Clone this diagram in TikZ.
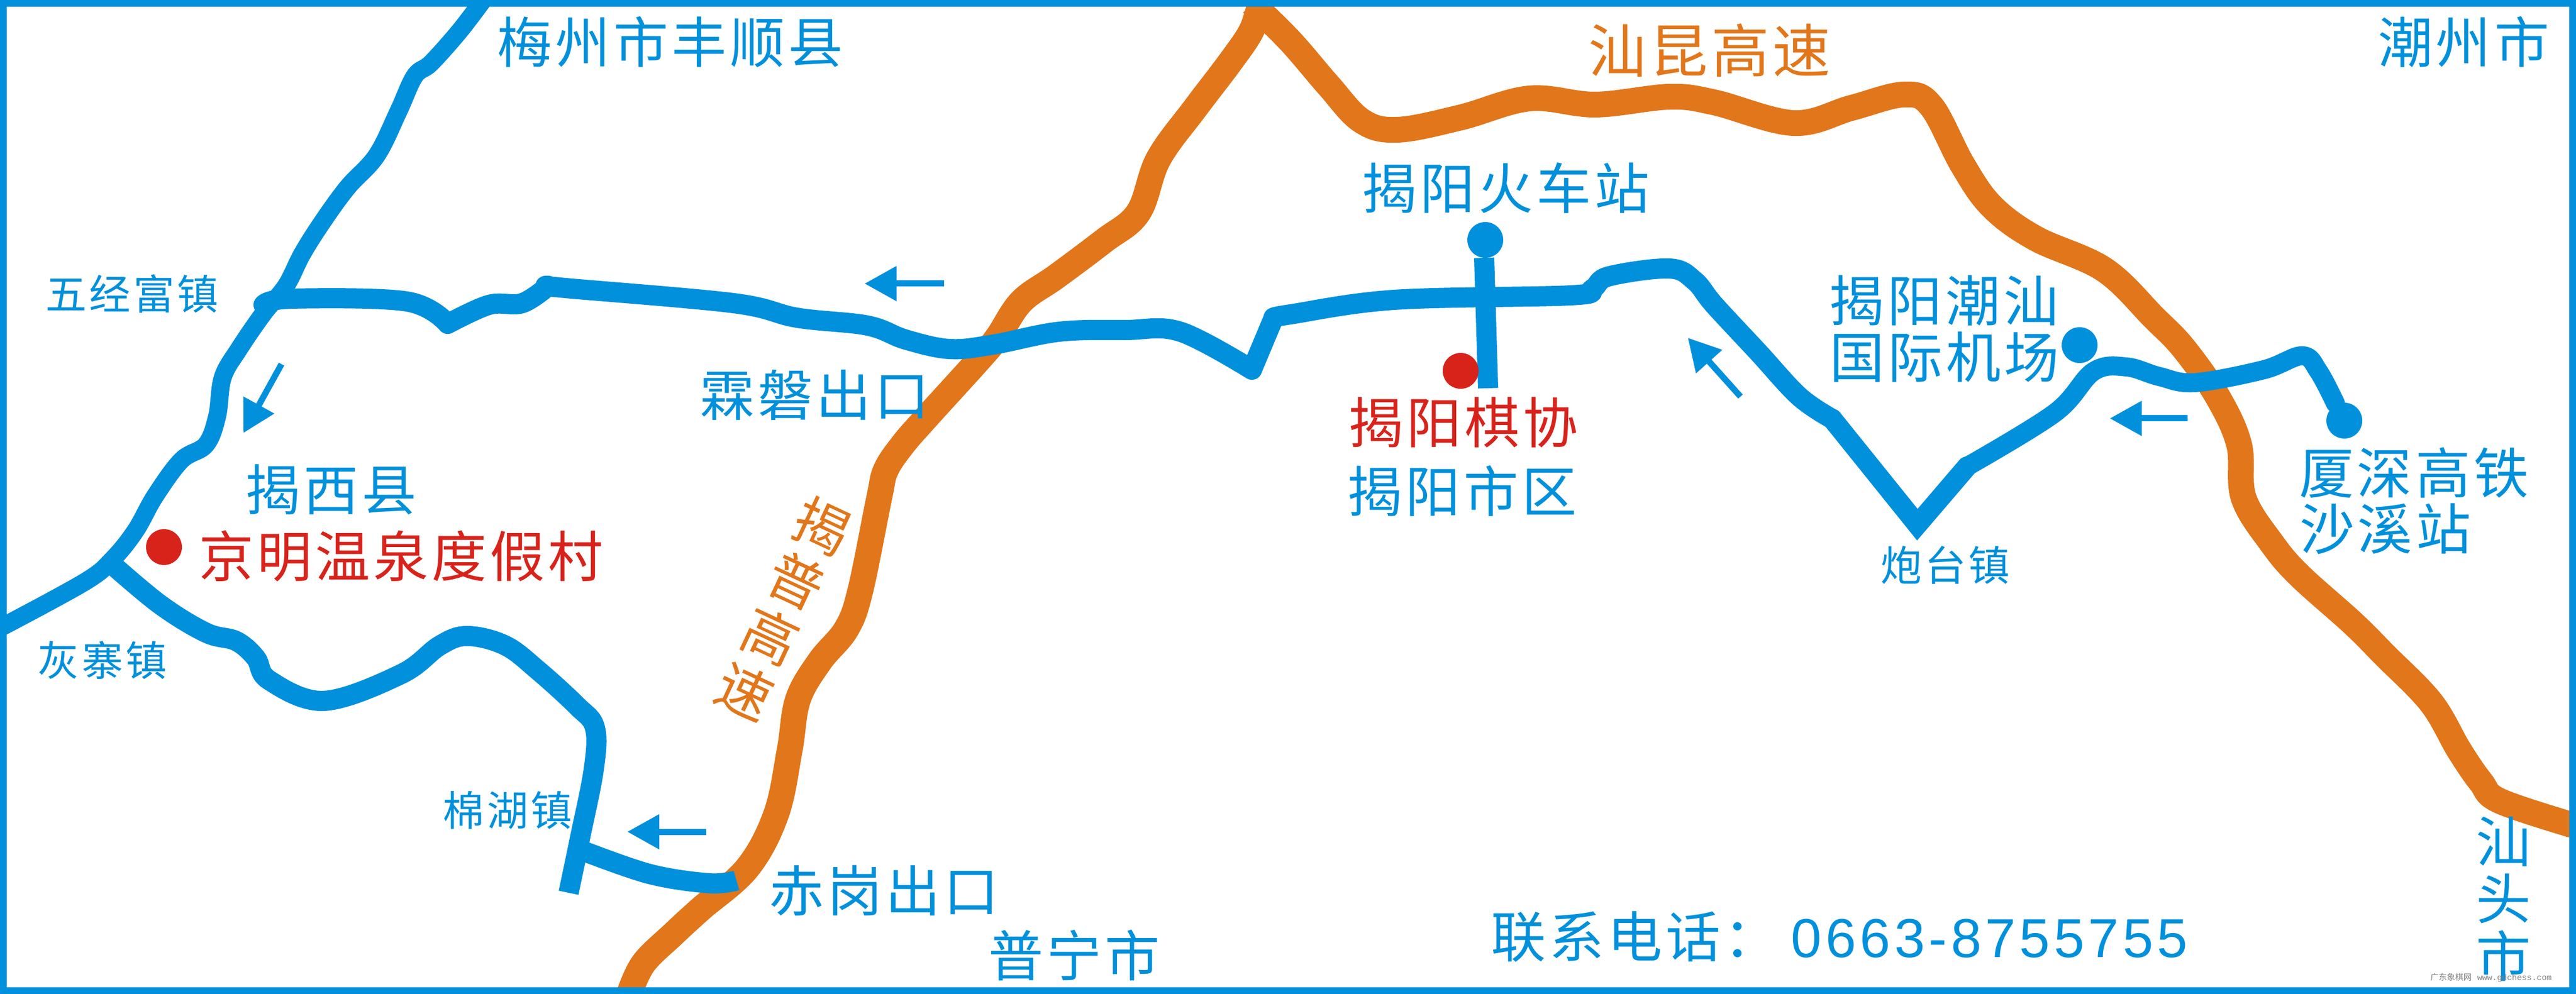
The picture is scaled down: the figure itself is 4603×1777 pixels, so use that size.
\documentclass[tikz,border=0pt]{standalone}
\usepackage{fontspec}
\usetikzlibrary{arrows.meta}
\newfontfamily\cjkbig[LetterSpace=6]{Noto Sans CJK SC}
\newfontfamily\cjkplain{Noto Sans CJK SC}
\newfontfamily\digitfont[LetterSpace=7]{Liberation Sans}
\newfontfamily\wmlatin{Liberation Mono}
\definecolor{roadblue}{HTML}{0090DC}
\definecolor{roadorange}{HTML}{E2761A}
\definecolor{markred}{HTML}{D8231B}
\tikzset{
  blueroad/.style={draw=roadblue,line width=0.36cm,line join=round},
  thinblue/.style={draw=roadblue,line width=0.32cm,line join=round},
  orangeroad/.style={draw=roadorange,line width=0.46cm,line join=round},
  dirarrow/.style={draw=roadblue,line width=0.11cm,-{Triangle[length=0.57cm,width=0.60cm]}},
  bigtext/.style={inner sep=0pt,align=center,font=\fontsize{27.9}{29}\selectfont\cjkbig,text=roadblue},
  smalltext/.style={inner sep=0pt,font=\fontsize{21}{22}\selectfont\cjkbig,text=roadblue},
  bluedot/.style={fill=roadblue,circle,minimum size=0.64cm,inner sep=0pt},
  reddot/.style={fill=markred,circle,minimum size=0.64cm,inner sep=0pt},
  smoothline/.style={smooth,tension=0.6}
}
\begin{document}
\begin{tikzpicture}[x=0.01cm,y=-0.01cm]
\useasboundingbox (0,0) rectangle (4603,1777);
\fill[white] (0,0) rectangle (4603,1777);
% orange expressways
\draw[orangeroad] plot[smoothline] coordinates {(1125,1775)(1150,1722)(1203,1670)(1252,1625)(1336,1551)(1387,1455)(1411,1341)(1426,1250)(1465,1182)(1512,1125)(1537,1057)(1571,890)(1583,840)(1613,795)(1653,749)(1751,641)(1783,602)(1825,539)(1888,494)(1972,431)(2034,380)(2070,284)(2136,193)(2196,114)(2235,57)(2250,12)};
\draw[orangeroad] plot[smoothline] coordinates {(2237,6)(2306,74)(2374,153)(2433,216)(2497,232)(2610,210)(2733,176)(2851,187)(2983,173)(3063,183)(3205,220)(3308,193)(3402,169)(3451,190)(3507,295)(3559,369)(3637,426)(3760,482)(3849,568)(3903,624)(3963,710)(4001,795)(4009,890)(4060,972)(4109,1029)(4204,1114)(4261,1171)(4344,1256)(4394,1341)(4433,1398)(4467,1432)(4600,1476)};
% blue roads
\draw[thinblue] plot[smoothline] coordinates {(862,2)(820,57)(770,113)(741,136)(712,199)(673,278)(621,335)(576,397)(540,454)(511,511)(471,560)(427,624)(398,675)(388,744)(368,795)(324,823)(277,887)(242,949)(201,1000)(152,1040)(5,1120)};
\draw[blueroad] plot[smoothline] coordinates {(190,1000)(285,1080)(368,1131)(422,1146)(457,1176)(481,1216)(579,1253)(717,1205)(786,1154)(835,1137)(903,1154)(962,1199)(1031,1262)(1063,1301)(1061,1375)(1036,1500)(1016,1596)};
\draw[blueroad] plot[smoothline] coordinates {(1031,1517)(1159,1562)(1267,1579)(1316,1574)};
\draw[blueroad,line cap=round] plot[smoothline] coordinates {(471,545)(520,534)(727,539)(800,579)}
  -- plot[smoothline] coordinates {(800,579)(874,545)(933,542)(980,511)}
  -- plot[smoothline] coordinates {(980,511)(1011,515)(1311,542)(1424,568)(1550,582)(1618,607)(1697,624)(1775,616)(1893,593)(2011,590)(2109,593)(2237,661)}
  -- plot[smoothline] coordinates {(2237,661)(2276,568)}
  -- plot[smoothline] coordinates {(2276,568)(2306,562)(2492,536)(2807,528)(2846,516)(2875,494)(2983,480)(3028,502)(3063,545)(3142,630)(3215,709)(3274,749)};
\draw[blueroad,line join=miter,miter limit=10,line cap=round] (3274,749) -- (3426,938) -- (3515,834);
\draw[draw=roadblue,line width=0.34cm,line join=round,line cap=round] (3515,834) -- plot[smoothline] coordinates {(3515,834)(3672,738)(3741,664)(3800,656)(3858,673)(3922,684)(4045,661)(4114,636)(4143,664)(4173,721)};
\coordinate (barTop) at (2652,461);
\coordinate (barEnd) at (2659,694);
\draw[blueroad] (barTop) -- (barEnd);
% direction arrows
\coordinate (a1s) at (1687,507); \coordinate (a1e) at (1545,507);
\coordinate (a2s) at (503,651);  \coordinate (a2e) at (435,774);
\coordinate (a3s) at (1262,1487);\coordinate (a3e) at (1121,1487);
\coordinate (a4s) at (3909,748); \coordinate (a4e) at (3770,748);
\coordinate (a5s) at (3110,709); \coordinate (a5e) at (3016,604);
\draw[dirarrow] (a1s) -- (a1e);
\draw[dirarrow] (a2s) -- (a2e);
\draw[dirarrow] (a3s) -- (a3e);
\draw[dirarrow] (a4s) -- (a4e);
\draw[dirarrow] (a5s) -- (a5e);
% border
\draw[roadblue,line width=0.12cm] (6,6) rectangle (4597,1771);
% dots
\node[bluedot] (dotStation) at (2654,429) {};
\node[bluedot] (dotAirport) at (3716,617) {};
\node[bluedot] (dotRail) at (4189,752) {};
\node[reddot] (dotResort) at (293,978) {};
\node[reddot] (dotChess) at (2610,663) {};
% labels
\node[bigtext] (t1) at (1198,75) {梅州市丰顺县};
\node[bigtext,text=roadorange,font=\fontsize{29.4}{30}\selectfont\cjkbig] (t2) at (3055,90) {汕昆高速};
\node[bigtext] (t3) at (4402,75) {潮州市};
\node[bigtext] (t4) at (2691,336) {揭阳火车站};
\node[bigtext,text=markred] (t5) at (2615,755) {揭阳棋协};
\node[bigtext] (t6) at (2613,878) {揭阳市区};
\node[bigtext] (t7) at (3474,537) {揭阳潮汕};
\node[bigtext] (t8) at (3475,638) {国际机场};
\node[bigtext] (t9) at (4313,845) {厦深高铁};
\node[bigtext] (t10) at (4262,946) {沙溪站};
\node[bigtext] (t11) at (1456,706) {霖磐出口};
\node[bigtext] (t12) at (592,875) {揭西县};
\node[bigtext,text=markred] (t13) at (717,994) {京明温泉度假村};
\node[bigtext] (t14) at (1580,1592) {赤岗出口};
\node[bigtext] (t15) at (1920,1708) {普宁市};
\node[bigtext,anchor=west] (t16) at (2664,1675) {联系电话：\hspace{0.22cm}{\digitfont 0663-8755755}};
\node[smalltext] (t17) at (236,525) {五经富镇};
\node[smalltext] (t18) at (183,1180) {灰寨镇};
\node[smalltext] (t19) at (907,1448) {棉湖镇};
\node[smalltext] (t20) at (3476,1010) {炮台镇};
\node[bigtext,font=\fontsize{27.9}{29.2}\selectfont\cjkplain] (t21) at (4473,1607) {汕\\头\\市};
\node[bigtext,rotate=-25,text=roadorange,font=\fontsize{27.9}{31}\selectfont\cjkplain] (t22) at (1400,1088) {揭\\普\\高\\速};
\node[inner sep=0pt,anchor=west,text=black!50,font=\fontsize{4.2}{5}\selectfont\cjkplain] (t23) at (4342,1748) {广东象棋网\hspace{0.1cm}{\wmlatin www.gdchess.com}};
\end{tikzpicture}
\end{document}
